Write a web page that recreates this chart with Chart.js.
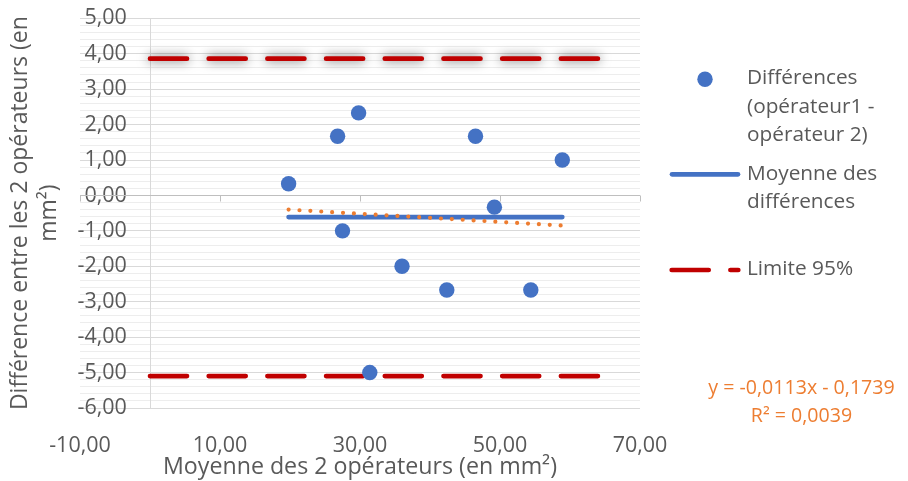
<!DOCTYPE html>
<html>
<head>
<meta charset="utf-8">
<script src="https://cdn.jsdelivr.net/npm/chart.js@4"></script>
<style>
  body { margin: 0; background: #fff; }
  #wrap { width: 908px; height: 481px; position: relative; }
</style>
</head>
<body>
<div id="wrap"><canvas id="blandAltman"></canvas></div>
<script>
// values
const averages = [19.8, 26.8, 29.8, 27.5, 36.0, 31.4, 42.4, 46.5, 49.2, 54.4, 58.9];
const differences = [0.33, 1.67, 2.33, -1.0, -2.0, -5.0, -2.67, 1.67, -0.33, -2.67, 1.0];

const meanLineX = [19.8, 58.9];
const meanLineY = [-0.61, -0.61];
const trendX = [19.8, 58.9];
const trendY = [-0.40, -0.85];
const limitX = [0, 65];
const upperLimitY = [3.86, 3.86];
const lowerLimitY = [-5.10, -5.10];

const xRange = [-10, 70];
const yRange = [-6, 5];

const legendLabels = [
  ["Différences", "(opérateur1 -", "opérateur 2)"],
  ["Moyenne des", "différences"],
  ["Limite 95%"],
];
const trendLabel = ["y = -0,0113x - 0,1739", "R² = 0,0039"];
const xTitle = "Moyenne des 2 opérateurs (en mm²)";
const yTitle = ["Différence entre les 2 opérateurs (en", "mm²)"];

const FONT = "'Open Sans', sans-serif";
const GREY = "#595959";
const BLUE = "#4472C4";
const RED = "#C00000";
const ORANGE = "#ED7D31";

const fmt = (v) => v.toFixed(2).replace(".", ",");
const isWhole = (v) => Math.abs(v - Math.round(v)) < 1e-6;
const toPoints = (xs, ys) => xs.map((x, i) => ({ x, y: ys[i] }));

// axes crossing at (0, 0) like Excel: vertical line at x = 0,
// horizontal line at y = 0 with small tick marks
const crossAxesPlugin = {
  id: "crossAxes",
  beforeDatasetsDraw(chart) {
    const { ctx, chartArea, scales } = chart;
    const x0 = Math.round(scales.x.getPixelForValue(0)) + 0.5;
    const y0 = Math.round(scales.y.getPixelForValue(0)) + 0.5;
    ctx.save();
    ctx.lineWidth = 1;
    ctx.strokeStyle = "#d9d9d9";
    ctx.beginPath();
    ctx.moveTo(x0, chartArea.top);
    ctx.lineTo(x0, chartArea.bottom);
    ctx.stroke();

    ctx.strokeStyle = "#bfbfbf";
    ctx.beginPath();
    ctx.moveTo(chartArea.left, y0);
    ctx.lineTo(chartArea.right, y0);
    scales.x.ticks.forEach((t) => {
      const px = Math.round(scales.x.getPixelForValue(t.value)) + 0.5;
      ctx.moveTo(px, y0);
      ctx.lineTo(px, y0 + 6);
    });
    ctx.stroke();
    ctx.restore();
  },
};

// the upper limit line has a soft grey shadow in the original
const shadowPlugin = {
  id: "limitShadow",
  beforeDatasetDraw(chart, args) {
    if (args.index !== 3) return;
    chart.ctx.save();
    chart.ctx.shadowColor = "rgba(0, 0, 0, 0.65)";
    chart.ctx.shadowBlur = 11;
  },
  afterDatasetDraw(chart, args) {
    if (args.index === 3) chart.ctx.restore();
  },
};

// Excel-like legend on the right plus the trendline equation
const sideLegendPlugin = {
  id: "sideLegend",
  afterDraw(chart) {
    const ctx = chart.ctx;
    const textX = 747;
    const lineH = 28.7;
    ctx.save();

    ctx.fillStyle = BLUE;
    ctx.beginPath();
    ctx.arc(705, 79.3, 7.7, 0, Math.PI * 2);
    ctx.fill();

    ctx.lineCap = "round";
    ctx.strokeStyle = BLUE;
    ctx.lineWidth = 4.7;
    ctx.beginPath();
    ctx.moveTo(672, 174.3);
    ctx.lineTo(738, 174.3);
    ctx.stroke();

    ctx.strokeStyle = RED;
    ctx.setLineDash([37, 21.7]);
    ctx.beginPath();
    ctx.moveTo(671.7, 270);
    ctx.lineTo(738.3, 270);
    ctx.stroke();
    ctx.setLineDash([]);

    ctx.font = `20.8px ${FONT}`;
    ctx.fillStyle = GREY;
    ctx.textAlign = "left";
    ctx.textBaseline = "middle";
    const starts = [77.9, 173.6, 268.6];
    legendLabels.forEach((lines, i) => {
      lines.forEach((line, j) => ctx.fillText(line, textX, starts[i] + j * lineH));
    });

    ctx.font = `19.6px ${FONT}`;
    ctx.fillStyle = ORANGE;
    ctx.textAlign = "center";
    trendLabel.forEach((line, j) => ctx.fillText(line, 801.5, 388 + j * 28.7));
    ctx.restore();
  },
};

Chart.defaults.font.family = FONT;
Chart.defaults.color = GREY;

const ctx = document.getElementById("blandAltman").getContext("2d");

new Chart(ctx, {
  type: "scatter",
  data: {
    datasets: [
      {
        label: legendLabels[0].join(" "),
        data: toPoints(averages, differences),
        backgroundColor: BLUE,
        borderWidth: 0,
        pointRadius: 7.7,
        pointHoverRadius: 7.7,
        yAxisID: "y",
      },
      {
        label: "Linéaire",
        data: toPoints(trendX, trendY),
        showLine: true,
        borderColor: ORANGE,
        borderWidth: 4.2,
        borderDash: [0, 10.9],
        borderCapStyle: "round",
        pointRadius: 0,
        yAxisID: "y",
      },
      {
        label: legendLabels[1].join(" "),
        data: toPoints(meanLineX, meanLineY),
        showLine: true,
        borderColor: BLUE,
        borderWidth: 4.7,
        borderCapStyle: "round",
        pointRadius: 0,
        yAxisID: "y",
      },
      {
        label: legendLabels[2][0],
        data: toPoints(limitX, upperLimitY),
        showLine: true,
        borderColor: RED,
        borderWidth: 4.7,
        borderDash: [37, 21.7],
        borderCapStyle: "round",
        pointRadius: 0,
        yAxisID: "y",
      },
      {
        label: legendLabels[2][0],
        data: toPoints(limitX, lowerLimitY),
        showLine: true,
        borderColor: RED,
        borderWidth: 4.7,
        borderDash: [37, 21.7],
        borderCapStyle: "round",
        pointRadius: 0,
        yAxisID: "y",
      },
    ],
  },
  options: {
    responsive: true,
    maintainAspectRatio: false,
    animation: false,
    events: [],
    layout: {
      padding: { top: 18.3, right: 268, bottom: 0, left: 0 },
    },
    plugins: {
      legend: { display: false },
      tooltip: { enabled: false },
    },
    scales: {
      y: {
        type: "linear",
        min: yRange[0],
        max: yRange[1],
        // labels sit just left of the x = 0 axis, inside the plot
        position: { x: -3.3 },
        ticks: {
          stepSize: 0.2,
          autoSkip: false,
          padding: 0,
          font: { size: 21.5 },
          color: GREY,
          callback: (v) => (isWhole(v) ? fmt(Math.round(v)) : ""),
        },
        grid: {
          drawTicks: false,
          color: (c) => (c.tick && isWhole(c.tick.value) ? "#d9d9d9" : "#ededed"),
        },
        border: { display: false },
      },
      yTitle: {
        type: "linear",
        position: "left",
        min: yRange[0],
        max: yRange[1],
        ticks: { display: false },
        grid: { display: false },
        border: { display: false },
        title: {
          display: true,
          text: yTitle,
          color: GREY,
          font: { size: 23, lineHeight: 1.25 },
          padding: { top: 6, bottom: 0 },
        },
        afterFit: (scale) => {
          scale.width = 80;
        },
      },
      x: {
        type: "linear",
        position: "bottom",
        min: xRange[0],
        max: xRange[1],
        ticks: {
          stepSize: 20,
          padding: 16.5,
          font: { size: 21.5 },
          color: GREY,
          callback: (v) => fmt(v),
        },
        grid: { display: false },
        border: { display: false },
        title: {
          display: true,
          text: xTitle,
          color: GREY,
          font: { size: 23.2 },
          padding: { top: 0, bottom: 0 },
        },
        afterFit: (scale) => {
          scale.height = 73;
        },
      },
    },
  },
  plugins: [crossAxesPlugin, shadowPlugin, sideLegendPlugin],
});
</script>
</body>
</html>
